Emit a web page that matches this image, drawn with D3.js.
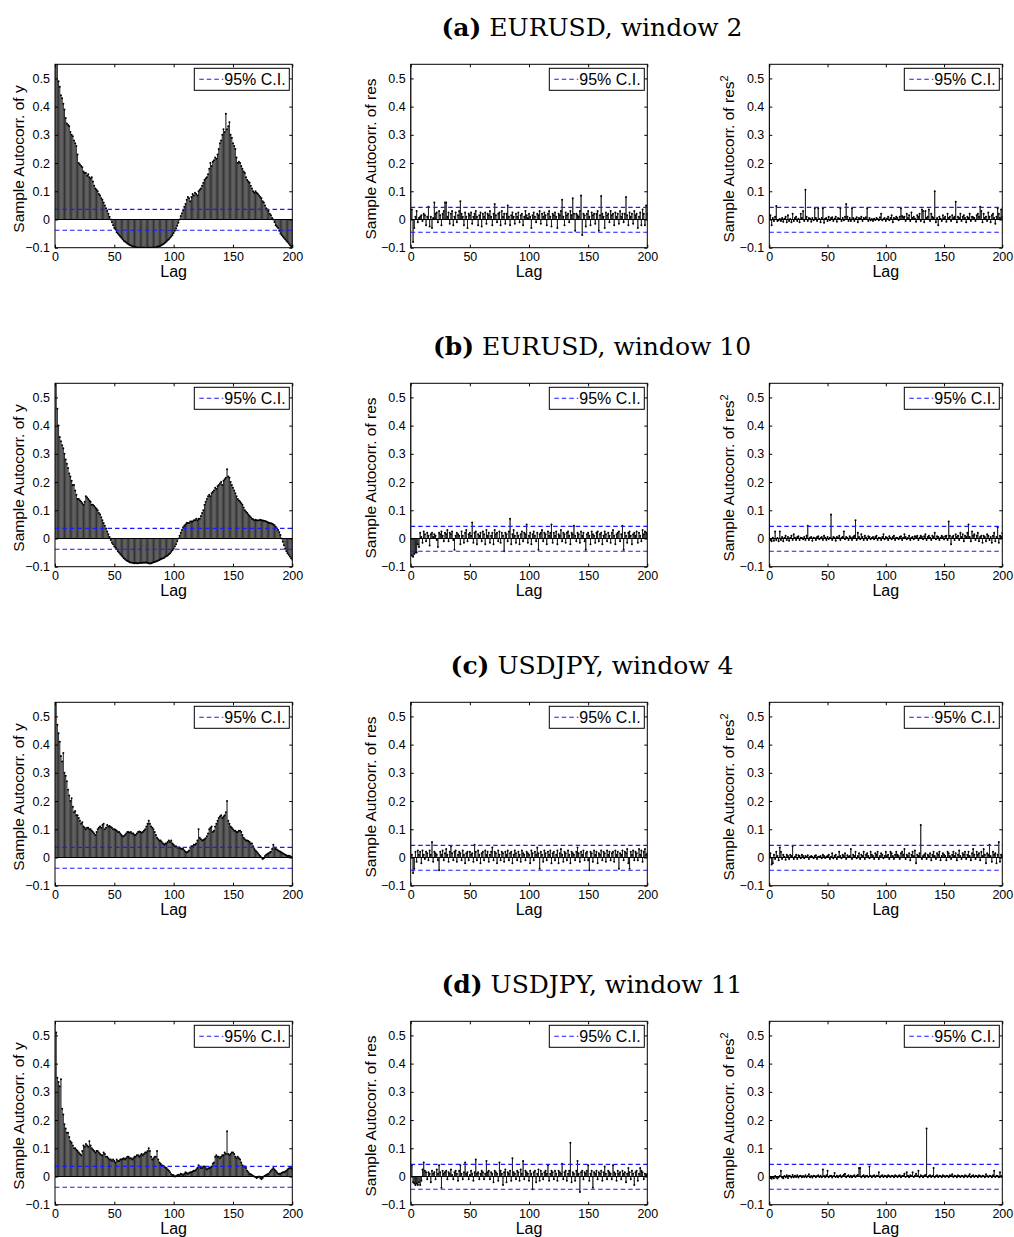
<!DOCTYPE html>
<html><head><meta charset="utf-8">
<script src="https://cdn.jsdelivr.net/npm/d3@7/dist/d3.min.js"></script>
<style>html,body{margin:0;padding:0;background:#fff}</style>
</head><body>
<script>
// ---------- DATA (lags 0..200) ----------
const xTicks = [0, 50, 100, 150, 200];
const yTicks = [-0.1, 0, 0.1, 0.2, 0.3, 0.4, 0.5];
const panelTitles = [["(a)", " EURUSD, window 2"], ["(b)", " EURUSD, window 10"], ["(c)", " USDJPY, window 4"], ["(d)", " USDJPY, window 11"]];
const yLabels = ["Sample Autocorr. of y", "Sample Autocorr. of res", "Sample Autocorr. of res"];
const yLabelSup = ["", "", "2"];
const legendLabel = "95% C.I.";
const ciY = [0.036, -0.038];
const ciRes = [0.043, -0.045];

const acfYa = [
1,0.62,0.55,0.49,0.47,0.44,0.43,0.41,0.39,0.36,
0.34,0.335,0.33,0.31,0.30,0.295,0.28,0.27,0.26,0.23,
0.20,0.195,0.19,0.185,0.17,0.165,0.165,0.155,0.16,0.15,
0.145,0.15,0.135,0.12,0.11,0.105,0.10,0.09,0.085,0.075,
0.07,0.06,0.05,0.04,0.03,0.02,0.01,0.0,-0.01,-0.02,
-0.03,-0.035,-0.045,-0.05,-0.055,-0.06,-0.065,-0.07,-0.075,-0.078,
-0.082,-0.085,-0.088,-0.09,-0.092,-0.094,-0.096,-0.097,-0.098,-0.099,
-0.1,-0.1,-0.099,-0.1,-0.1,-0.099,-0.1,-0.1,-0.1,-0.099,
-0.1,-0.1,-0.1,-0.098,-0.1,-0.099,-0.097,-0.096,-0.095,-0.093,
-0.09,-0.088,-0.085,-0.082,-0.078,-0.074,-0.07,-0.065,-0.06,-0.055,
-0.048,-0.04,-0.032,-0.022,-0.012,0.0,0.012,0.022,0.032,0.045,
0.055,0.07,0.08,0.075,0.065,0.08,0.09,0.085,0.095,0.09,
0.085,0.1,0.105,0.11,0.12,0.13,0.14,0.145,0.15,0.16,
0.18,0.2,0.19,0.205,0.21,0.22,0.215,0.23,0.25,0.27,
0.28,0.3,0.32,0.31,0.375,0.32,0.33,0.345,0.3,0.29,
0.27,0.26,0.25,0.22,0.2,0.205,0.2,0.19,0.18,0.17,
0.165,0.15,0.14,0.135,0.13,0.12,0.11,0.1,0.095,0.1,
0.095,0.09,0.085,0.08,0.075,0.065,0.06,0.05,0.04,0.035,
0.03,0.02,0.015,0.005,0.0,-0.01,-0.02,-0.025,-0.03,-0.04,
-0.05,-0.055,-0.06,-0.065,-0.07,-0.075,-0.08,-0.085,-0.09,-0.095,
-0.1];
const acfResA = [
1,0.035,-0.08,-0.03,0.01,0.03,-0.01,0.005,0.01,0.015,
-0.005,0.02,0.015,-0.02,0.01,0.045,-0.025,0.01,-0.03,0.005,
0.06,0.02,0.025,-0.01,0.03,0.015,-0.02,0.02,0.03,0.06,
0.06,0.01,0.025,-0.015,0.02,0.03,-0.02,0.01,0.025,-0.01,
0.015,0.03,0.065,0.02,0.01,-0.02,0.025,0.01,-0.03,0.02,
0.015,0.025,-0.015,0.01,0.02,0.03,0.01,-0.02,0.015,0.025,
-0.025,0.02,0.01,0.025,-0.015,0.02,0.015,0.03,0.01,-0.02,
0.02,0.055,0.015,-0.01,0.02,0.025,-0.02,0.03,0.01,0.02,
-0.015,0.02,0.05,0.01,-0.02,0.015,0.025,0.01,-0.015,0.02,
0.01,0.025,-0.01,0.015,0.02,-0.02,0.01,0.03,0.015,0.005,
0.02,0.01,-0.03,0.015,0.025,0.01,-0.01,0.02,0.015,0.03,
-0.015,0.02,0.01,0.025,0.015,-0.02,0.02,0.03,0.01,-0.025,
0.02,0.015,0.025,0.01,-0.03,0.02,0.015,0.03,0.07,0.01,
-0.02,0.025,0.015,0.02,-0.01,0.03,0.015,0.075,0.02,-0.04,
0.02,0.015,0.01,0.03,0.085,-0.055,0.02,0.015,-0.025,0.02,
0.03,0.01,-0.02,0.025,0.015,0.02,-0.015,0.02,0.03,-0.04,
0.015,0.083,0.02,0.01,-0.03,0.025,0.015,0.02,-0.01,0.03,
0.015,0.02,-0.02,0.025,0.01,0.02,-0.015,0.03,0.01,0.02,
-0.01,0.02,0.08,0.015,-0.02,0.025,0.01,0.02,-0.015,0.03,
0.015,0.02,-0.03,0.01,0.025,-0.02,0.035,0.02,-0.02,0.05,
0.02];
const acfRes2A = [
1,0.015,-0.02,0.005,-0.005,0.01,0.048,-0.005,-0.003,0.002,
-0.005,0.005,-0.008,0.003,0.01,-0.01,0.015,-0.005,0.002,-0.01,
0.02,-0.005,0.005,0.01,-0.005,0.003,-0.01,0.02,0.005,0.03,
-0.005,0.105,0.01,-0.005,0.005,0.003,-0.008,0.005,-0.003,0.04,
0.005,-0.005,0.04,0.002,-0.01,0.005,0.04,-0.012,0.003,0.005,
-0.005,0.01,-0.003,0.005,0.008,-0.005,0.003,0.01,-0.008,0.005,
0.003,0.04,-0.005,0.005,-0.003,0.01,0.055,0.01,-0.005,0.005,
-0.005,0.04,0.005,-0.005,0.003,0.008,-0.01,0.005,0.003,0.01,
-0.005,0.005,0.003,0.008,0.04,-0.005,0.005,-0.003,0.002,-0.005,
0.003,-0.002,0.005,0.002,-0.003,0.008,0.02,-0.003,0.002,0.005,
-0.005,0.003,0.01,-0.003,0.005,0.015,-0.01,0.005,0.003,0.01,
0.005,-0.003,0.01,0.04,0.012,0.008,0.01,-0.005,0.02,0.005,
0.015,-0.005,0.025,0.005,0.01,0.003,-0.008,0.015,0.01,0.02,
-0.005,0.035,0.03,-0.01,0.03,0.005,0.01,0.035,-0.005,0.02,
0.01,0.005,0.1,-0.01,0.005,-0.02,0.01,0.003,-0.005,0.015,
0.005,0.01,-0.008,0.02,0.005,0.01,-0.005,0.015,0.005,0.01,
0.063,-0.01,0.01,0.005,0.02,-0.005,0.01,0.015,0.005,-0.01,
0.01,0.005,0.02,-0.005,0.01,0.008,0.005,-0.005,0.015,0.02,
0.01,0.045,0.03,-0.01,0.02,0.005,0.01,-0.005,0.025,0.01,
-0.01,0.015,0.02,0.005,-0.015,0.01,0.04,0.02,0.005,0.035,
0.01];

const acfYb = [
1,0.6,0.46,0.40,0.36,0.345,0.33,0.32,0.30,0.28,
0.265,0.25,0.23,0.22,0.205,0.19,0.19,0.17,0.155,0.14,
0.14,0.135,0.13,0.125,0.12,0.13,0.15,0.145,0.14,0.135,
0.13,0.12,0.12,0.115,0.11,0.105,0.10,0.09,0.085,0.075,
0.065,0.055,0.045,0.035,0.025,0.015,0.005,-0.005,-0.015,-0.02,
-0.028,-0.033,-0.038,-0.045,-0.05,-0.055,-0.06,-0.065,-0.07,-0.073,
-0.077,-0.08,-0.082,-0.084,-0.085,-0.086,-0.087,-0.088,-0.087,-0.088,
-0.088,-0.087,-0.086,-0.087,-0.086,-0.085,-0.086,-0.085,-0.087,-0.088,
-0.089,-0.088,-0.086,-0.084,-0.083,-0.082,-0.08,-0.078,-0.076,-0.074,
-0.072,-0.07,-0.068,-0.065,-0.062,-0.06,-0.056,-0.052,-0.047,-0.042,
-0.036,-0.028,-0.02,-0.01,0.0,0.01,0.02,0.03,0.04,0.045,
0.05,0.055,0.055,0.055,0.06,0.06,0.06,0.065,0.065,0.07,
0.065,0.07,0.07,0.08,0.09,0.1,0.12,0.13,0.14,0.15,
0.155,0.15,0.16,0.165,0.17,0.18,0.175,0.185,0.19,0.195,
0.2,0.19,0.205,0.21,0.215,0.245,0.22,0.215,0.2,0.19,
0.18,0.17,0.16,0.15,0.14,0.135,0.13,0.125,0.12,0.11,
0.1,0.095,0.09,0.085,0.08,0.075,0.07,0.068,0.065,0.066,
0.065,0.064,0.065,0.066,0.065,0.064,0.063,0.062,0.06,0.058,
0.056,0.055,0.054,0.052,0.05,0.047,0.042,0.036,0.03,0.022,
0.012,0.0,-0.012,-0.024,-0.036,-0.045,-0.052,-0.058,-0.064,-0.07,
-0.075];
const acfResB = [
1,-0.06,-0.065,-0.055,-0.05,-0.05,-0.02,-0.03,0.02,0.005,
-0.015,0.025,0.015,-0.01,0.02,0.01,-0.025,0.015,0.02,0.005,
0.015,0.01,-0.005,-0.03,0.02,0.015,0.025,0.01,-0.01,0.02,
0.015,0.03,-0.01,0.02,0.015,0.025,-0.005,-0.04,0.01,0.02,
0.015,0.01,-0.02,0.025,0.01,-0.015,0.02,0.03,-0.01,0.015,
0.02,0.01,0.057,-0.015,0.02,0.025,-0.02,0.015,0.01,0.02,
-0.01,0.025,0.015,-0.02,0.03,0.01,0.02,-0.015,0.01,0.02,
-0.02,0.03,0.015,0.02,-0.01,0.025,-0.015,0.02,0.01,-0.045,
0.02,0.015,-0.01,0.025,0.07,-0.02,0.015,0.03,0.01,-0.015,
0.02,0.01,-0.02,0.015,0.025,-0.01,0.02,0.015,0.05,-0.015,
0.01,0.02,-0.02,0.015,0.025,0.01,-0.01,0.02,-0.04,0.015,
0.02,0.03,-0.01,0.02,0.015,-0.02,0.025,0.01,0.02,0.05,
-0.015,0.02,0.01,0.025,-0.02,0.015,0.01,0.03,-0.01,0.02,
0.015,-0.015,0.02,0.025,0.01,-0.02,0.02,0.015,0.045,0.01,
-0.01,0.02,0.015,-0.015,0.025,0.01,0.02,-0.01,-0.04,0.015,
0.02,0.01,-0.02,0.025,0.015,0.01,-0.015,0.02,0.025,-0.01,
0.015,0.02,-0.02,0.01,0.025,0.015,-0.01,0.02,0.01,-0.015,
0.02,0.03,0.01,-0.02,0.015,0.02,0.025,-0.01,0.015,0.045,
-0.04,0.02,0.01,-0.015,0.02,0.025,0.01,-0.02,0.015,0.02,
0.01,0.025,-0.015,0.02,0.01,-0.01,0.03,0.015,0.025,0.02,
0.015];
const acfRes2B = [
1,-0.005,-0.01,0.003,-0.008,0.025,-0.005,0.002,-0.01,0.025,
-0.005,0.005,-0.01,0.003,0.01,-0.005,0.005,-0.008,0.002,0.01,
-0.005,0.015,0.003,-0.005,0.005,0.008,-0.005,0.003,0.002,-0.003,
0.005,-0.005,0.01,0.045,-0.005,0.003,0.005,-0.008,0.003,0.002,
-0.005,0.005,0.008,-0.003,0.002,0.005,-0.005,0.01,0.003,-0.005,
0.005,-0.002,0.003,0.085,-0.005,0.005,0.003,-0.008,0.005,0.002,
0.01,-0.005,0.003,0.005,0.025,-0.003,0.005,0.002,-0.005,0.008,
0.003,-0.005,0.005,0.01,0.065,-0.005,0.02,0.005,-0.003,0.015,
0.005,-0.005,0.01,0.003,-0.005,0.008,0.005,-0.003,0.002,0.005,
-0.003,0.005,0.01,-0.005,0.003,0.002,-0.005,0.005,0.015,-0.003,
0.005,0.003,-0.005,0.008,0.002,-0.003,0.005,0.01,-0.005,0.003,
0.002,-0.003,0.005,0.008,-0.005,0.003,0.015,0.005,-0.003,0.002,
0.01,-0.005,0.003,0.005,-0.003,0.008,0.005,0.01,-0.005,0.003,
0.01,0.005,-0.003,0.008,0.015,-0.005,0.005,0.01,0.003,-0.005,
0.01,0.005,0.02,-0.003,0.008,0.005,-0.005,0.003,0.01,0.005,
-0.003,0.008,0.01,-0.005,0.06,0.01,-0.02,0.005,0.01,-0.005,
0.015,0.005,0.01,-0.005,0.02,0.005,0.015,-0.01,0.01,0.005,
0.02,0.05,0.005,-0.01,0.025,0.01,0.015,-0.005,0.01,0.02,
-0.01,0.005,0.01,-0.015,0.01,0.005,-0.01,0.015,0.01,-0.005,
0.005,-0.015,0.01,0.02,-0.01,0.005,0.04,-0.015,0.01,0.005,
0.02];

const acfYc = [
1,0.62,0.47,0.44,0.41,0.36,0.34,0.37,0.30,0.29,
0.27,0.24,0.22,0.20,0.21,0.18,0.16,0.165,0.15,0.15,
0.14,0.13,0.12,0.125,0.11,0.105,0.10,0.105,0.105,0.10,
0.10,0.095,0.09,0.085,0.08,0.09,0.10,0.105,0.11,0.105,
0.115,0.12,0.10,0.105,0.115,0.11,0.112,0.108,0.105,0.10,
0.10,0.098,0.095,0.09,0.09,0.085,0.08,0.075,0.075,0.08,
0.085,0.09,0.09,0.088,0.09,0.085,0.085,0.08,0.08,0.085,
0.09,0.092,0.09,0.088,0.09,0.095,0.1,0.11,0.12,0.13,
0.12,0.11,0.105,0.1,0.09,0.08,0.07,0.065,0.06,0.06,
0.055,0.05,0.045,0.05,0.05,0.055,0.06,0.055,0.06,0.05,
0.045,0.04,0.04,0.035,0.035,0.035,0.032,0.03,0.03,0.025,
0.02,0.018,0.02,0.025,0.035,0.04,0.04,0.045,0.045,0.05,
0.06,0.1,0.07,0.065,0.06,0.062,0.065,0.068,0.075,0.085,
0.1,0.105,0.11,0.09,0.095,0.11,0.12,0.13,0.14,0.145,
0.15,0.14,0.145,0.15,0.16,0.2,0.13,0.12,0.11,0.105,
0.1,0.095,0.095,0.09,0.09,0.095,0.095,0.09,0.08,0.07,
0.065,0.06,0.06,0.058,0.055,0.05,0.05,0.04,0.03,0.025,
0.02,0.015,0.01,0.005,0.0,-0.005,-0.003,0.005,0.01,0.012,
0.015,0.018,0.02,0.03,0.045,0.035,0.03,0.028,0.025,0.022,
0.02,0.018,0.015,0.012,0.01,0.008,0.005,0.006,0.005,0.002,
0.0];
const acfResC = [
1,0.01,-0.055,-0.04,0.02,-0.015,0.025,0.01,0.02,-0.02,
0.025,0.01,-0.005,0.02,0.015,-0.01,0.025,0.01,0.055,-0.015,
0.02,0.015,0.01,-0.01,-0.045,0.02,0.01,0.025,-0.01,0.015,
0.03,0.01,-0.015,0.02,0.04,0.015,-0.01,0.02,0.025,-0.015,
0.01,0.02,0.015,-0.01,0.025,0.01,-0.02,0.015,0.02,-0.01,
0.02,0.01,0.015,-0.015,0.045,0.02,-0.01,0.025,0.01,-0.02,
0.015,0.02,-0.01,0.025,0.01,0.02,-0.015,0.01,0.02,0.035,
-0.01,0.02,0.015,-0.02,0.025,0.01,-0.01,0.02,0.015,-0.015,
0.02,0.01,0.025,-0.01,0.015,0.02,-0.02,0.01,0.025,0.015,
-0.01,0.02,0.01,-0.015,0.025,0.015,0.01,-0.01,0.02,0.015,
0.01,-0.02,0.025,0.015,-0.01,0.02,0.01,0.035,0.015,-0.04,
0.02,0.01,-0.015,0.025,0.015,-0.01,0.02,0.01,0.025,-0.02,
0.015,0.02,-0.01,0.01,0.025,-0.02,0.015,0.03,0.01,-0.015,
0.02,0.015,-0.01,0.025,0.01,-0.02,0.02,0.015,0.01,-0.01,
0.02,0.035,0.015,-0.015,0.02,0.01,0.025,-0.01,0.015,0.02,
-0.01,-0.045,0.02,0.015,-0.015,0.025,0.01,0.02,-0.02,0.015,
0.01,0.025,-0.01,0.02,0.015,-0.015,0.025,0.01,0.02,-0.01,
0.015,0.02,-0.015,0.025,0.01,0.02,-0.04,0.015,0.01,0.025,
-0.01,0.02,0.015,0.03,-0.02,-0.04,0.02,0.01,0.025,-0.01,
0.02,0.015,-0.01,0.03,0.01,0.025,-0.015,0.02,0.03,0.01,
0.015];
const acfRes2C = [
1,0.015,-0.025,-0.02,0.01,-0.005,0.02,0.005,-0.01,0.035,
0.02,-0.005,0.01,0.003,-0.008,0.01,0.005,-0.005,0.01,0.005,
0.04,-0.005,0.003,0.01,-0.005,0.008,0.005,-0.003,0.01,0.005,
-0.003,0.005,0.002,0.008,-0.005,0.003,0.005,0.002,-0.003,0.005,
0.008,-0.005,0.003,0.002,0.005,-0.003,0.01,0.005,-0.002,0.003,
0.005,0.01,-0.005,0.003,0.015,-0.003,0.005,0.01,-0.005,0.003,
0.02,0.005,-0.003,0.01,0.005,0.015,-0.005,0.008,0.003,0.005,
0.03,-0.005,0.01,0.005,0.02,-0.003,0.005,0.015,-0.005,0.01,
0.005,0.02,-0.005,0.01,0.015,0.005,-0.003,0.02,0.01,0.005,
-0.005,0.015,0.01,0.02,-0.005,0.005,0.015,0.01,-0.003,0.005,
0.02,0.005,0.01,-0.005,0.02,0.015,0.005,-0.005,0.01,0.02,
0.01,0.005,-0.005,0.015,0.02,0.01,0.03,-0.005,0.01,0.005,
0.015,-0.01,0.01,0.02,0.005,0.025,-0.02,0.01,0.005,0.015,
0.115,-0.005,0.005,0.01,0.015,-0.005,0.01,0.005,0.015,-0.01,
0.01,0.02,0.005,-0.005,0.015,0.01,0.02,-0.01,0.005,0.015,
0.01,0.005,-0.01,0.02,0.015,0.005,-0.005,0.01,0.02,0.005,
0.015,-0.01,0.01,0.025,0.005,-0.005,0.015,0.01,0.02,-0.005,
0.01,0.02,0.005,-0.01,0.015,0.03,0.01,-0.005,0.02,0.01,
0.015,-0.01,0.02,0.005,0.03,0.01,-0.02,0.015,0.01,0.045,
0.005,-0.015,0.02,0.01,0.015,-0.02,0.01,0.055,-0.015,0.01,
0.005];

const acfYd = [
1,0.51,0.35,0.335,0.32,0.345,0.24,0.22,0.185,0.17,
0.155,0.155,0.14,0.125,0.12,0.11,0.1,0.1,0.095,0.09,
0.085,0.08,0.075,0.09,0.11,0.105,0.115,0.11,0.105,0.125,
0.11,0.1,0.095,0.09,0.085,0.09,0.09,0.085,0.08,0.075,
0.075,0.085,0.08,0.07,0.07,0.065,0.06,0.06,0.055,0.06,
0.055,0.05,0.06,0.055,0.055,0.06,0.06,0.062,0.065,0.06,
0.065,0.07,0.07,0.065,0.065,0.06,0.065,0.07,0.07,0.075,
0.075,0.07,0.075,0.08,0.075,0.08,0.085,0.085,0.09,0.1,
0.09,0.07,0.06,0.065,0.07,0.07,0.09,0.06,0.05,0.045,
0.04,0.038,0.035,0.032,0.03,0.025,0.02,0.015,0.008,0.005,
0.004,0.0,0.002,0.004,0.006,0.005,0.01,0.008,0.005,0.01,
0.015,0.012,0.01,0.012,0.015,0.015,0.018,0.02,0.02,0.025,
0.03,0.04,0.035,0.03,0.03,0.035,0.035,0.03,0.025,0.028,
0.03,0.032,0.035,0.045,0.05,0.07,0.075,0.07,0.07,0.065,
0.07,0.075,0.075,0.085,0.08,0.16,0.08,0.075,0.08,0.085,
0.085,0.08,0.07,0.065,0.07,0.065,0.06,0.05,0.04,0.035,
0.035,0.03,0.02,0.015,0.01,0.008,0.005,0.002,0.0,-0.002,
-0.005,-0.003,0.0,-0.005,-0.01,-0.005,0.0,0.003,0.005,0.008,
0.01,0.015,0.02,0.025,0.03,0.025,0.02,0.015,0.01,0.01,
0.01,0.012,0.015,0.015,0.018,0.02,0.025,0.028,0.03,0.03,
0.025];
const acfResD = [
1,0.04,-0.02,-0.025,-0.03,-0.025,-0.03,-0.02,-0.03,-0.015,
0.025,0.05,0.02,0.015,-0.01,0.015,0.01,-0.02,0.02,0.01,
0.015,-0.01,0.025,0.01,0.04,0.015,-0.04,0.02,0.01,0.015,
0.02,-0.01,0.015,0.01,0.025,0.005,-0.01,0.015,0.02,0.01,
-0.015,0.02,0.04,0.01,-0.01,0.015,0.05,0.01,0.015,-0.01,
0.005,0.02,0.01,-0.015,0.015,0.06,0.01,0.015,-0.01,0.01,
0.02,0.015,-0.01,0.01,0.055,0.015,0.02,-0.01,0.015,0.01,
-0.02,0.02,0.015,0.01,-0.015,0.05,0.02,0.01,-0.03,0.015,
0.025,-0.02,0.015,0.01,0.02,-0.015,0.065,0.015,0.01,-0.01,
0.02,0.015,-0.015,0.025,0.01,0.055,-0.01,0.02,0.015,0.01,
-0.015,0.02,0.01,-0.045,0.015,0.02,-0.02,0.01,0.025,-0.015,
0.02,0.01,-0.01,0.015,0.02,0.01,0.04,-0.015,0.01,0.02,
0.015,-0.01,0.02,0.01,-0.015,0.02,0.015,0.01,0.045,-0.01,
0.015,0.02,-0.015,0.01,0.02,0.12,-0.02,0.015,0.01,-0.015,
0.02,0.055,0.01,-0.055,0.015,0.02,-0.01,0.015,0.01,0.02,
0.04,-0.015,0.01,0.02,-0.04,0.015,0.01,0.02,-0.01,0.015,
0.01,0.02,-0.015,0.015,0.035,0.01,-0.01,0.02,0.015,0.01,
-0.01,0.04,0.015,0.01,-0.015,0.02,0.01,0.015,-0.01,0.02,
0.01,0.015,-0.02,0.01,0.03,0.015,-0.01,0.02,0.01,-0.03,
0.015,0.02,-0.015,0.01,0.03,0.02,0.015,-0.01,0.01,0.005,
0.01];
const acfRes2D = [
1,-0.005,-0.008,-0.003,-0.006,0.002,-0.004,-0.007,-0.003,0.002,
0.02,-0.004,-0.006,0.002,-0.003,0.004,-0.005,0.003,0.001,-0.004,
0.005,-0.003,0.003,-0.002,0.004,-0.004,0.002,0.003,-0.003,0.002,
-0.002,0.004,-0.003,0.002,0.008,-0.003,0.002,-0.004,0.003,0.002,
-0.003,0.002,0.004,-0.002,0.003,-0.003,0.025,0.002,-0.003,0.004,
0.02,-0.003,0.002,0.003,-0.004,0.002,0.012,-0.002,0.003,-0.003,
0.002,0.004,-0.003,0.002,0.006,0.01,-0.003,0.002,0.004,-0.002,
0.003,-0.003,0.002,0.004,-0.002,0.003,0.005,0.03,0.03,-0.003,
0.002,0.004,-0.003,0.002,0.003,-0.002,0.035,0.003,-0.003,0.002,
0.004,-0.002,0.003,0.002,0.015,-0.003,0.002,0.004,-0.002,0.003,
0.002,-0.003,0.004,0.002,-0.002,0.003,0.002,-0.003,0.004,0.002,
-0.002,0.003,0.004,-0.003,0.002,0.003,0.01,-0.002,0.015,0.003,
-0.003,0.004,0.002,0.015,-0.002,0.003,0.01,0.002,0.02,-0.003,
0.004,0.002,-0.003,0.003,0.005,0.17,-0.003,0.002,0.004,-0.002,
0.003,0.03,-0.003,0.002,0.004,-0.002,0.003,0.002,-0.003,0.004,
0.002,-0.002,0.003,0.002,-0.003,0.004,0.002,0.008,-0.002,0.003,
0.002,-0.003,0.004,0.002,-0.002,0.003,0.002,-0.003,0.004,0.002,
-0.002,0.003,0.008,-0.003,0.002,0.004,-0.002,0.003,0.002,-0.003,
0.004,0.002,-0.002,0.003,0.002,-0.003,0.008,0.002,-0.002,0.003,
0.002,-0.003,0.004,0.02,-0.002,0.003,0.002,-0.003,0.015,0.002,
-0.002];

const seriesGrid = [
  [acfYa, acfResA, acfRes2A],
  [acfYb, acfResB, acfRes2B],
  [acfYc, acfResC, acfRes2C],
  [acfYd, acfResD, acfRes2D]
];

// ---------- LAYOUT ----------
const W = 1014, H = 1237;
const cols = [{x0: 55, x1: 292.3}, {x0: 410.7, x1: 647.3}, {x0: 769.3, x1: 1002.3}];
const rowStep = 319, top0 = 64.3, bot0 = 247.7;
const sans = "'Liberation Sans', Arial, Helvetica, sans-serif";

const svg = d3.select("body").append("svg").attr("width", W).attr("height", H)
  .style("display", "block");

seriesGrid.forEach((row, r) => {
  const top = top0 + rowStep * r, bot = bot0 + rowStep * r;
  // title
  const t = svg.append("text").attr("x", 592).attr("y", 36 + rowStep * r)
    .attr("text-anchor", "middle").attr("font-family", "'DejaVu Serif', serif")
    .attr("font-size", 25).attr("fill", "#000");
  t.append("tspan").attr("font-weight", "bold").text(panelTitles[r][0]);
  t.append("tspan").text(panelTitles[r][1]);

  row.forEach((vals, c) => {
    const {x0, x1} = cols[c];
    const x = d3.scaleLinear().domain([0, 200]).range([x0, x1]);
    const y = d3.scaleLinear().domain([-0.1, 0.55]).range([bot, top]);
    const g = svg.append("g");
    const cid = `clip${r}_${c}`;
    g.append("clipPath").attr("id", cid).append("rect")
      .attr("x", x0).attr("y", top).attr("width", x1 - x0).attr("height", bot - top);
    const plot = g.append("g").attr("clip-path", `url(#${cid})`);
    const step = x(1) - x(0);
    const data = vals.map((v, i) => ({lag: i, v}));
    // bars
    plot.selectAll("rect.bar").data(data).join("rect").attr("class", "bar")
      .attr("x", d => x(d.lag) - step * 0.42)
      .attr("width", step * 0.84)
      .attr("y", d => y(Math.max(0, d.v)))
      .attr("height", d => Math.abs(y(d.v) - y(0)))
      .attr("fill", c === 0 ? "#4e4e4e" : "#555");
    // stems
    plot.selectAll("line.stem").data(data).join("line").attr("class", "stem")
      .attr("x1", d => x(d.lag)).attr("x2", d => x(d.lag))
      .attr("y1", y(0)).attr("y2", d => y(d.v))
      .attr("stroke", "#111").attr("stroke-width", c === 0 ? 0.45 : 0.8);
    // markers
    plot.selectAll("circle.mk").data(data).join("circle").attr("class", "mk")
      .attr("cx", d => x(d.lag)).attr("cy", d => y(d.v)).attr("r", 1.0)
      .attr("fill", "#000");
    // zero line
    plot.append("line").attr("x1", x0).attr("x2", x1).attr("y1", y(0)).attr("y2", y(0))
      .attr("stroke", "#000").attr("stroke-width", 1.2);
    // CI lines
    const ci = c === 0 ? ciY : ciRes;
    ci.forEach(cv => {
      plot.append("line").attr("x1", x0).attr("x2", x1).attr("y1", y(cv)).attr("y2", y(cv))
        .attr("stroke", "#1a1aff").attr("stroke-width", 1.1).attr("stroke-dasharray", "4.5,3");
    });

    // axes
    const styleAxis = sel => {
      sel.attr("font-family", sans).attr("font-size", 12.5);
      sel.select(".domain").remove();
      sel.selectAll(".tick line").attr("stroke", "#000");
      sel.selectAll(".tick text").attr("fill", "#000");
    };
    g.append("g").attr("transform", `translate(${x0},0)`)
      .call(d3.axisLeft(y).tickValues(yTicks).tickSize(-3).tickPadding(5)
        .tickFormat(v => Math.abs(v) < 1e-9 ? "0" : (v < 0 ? "\u2212" : "") + Math.abs(v).toFixed(1)))
      .call(styleAxis);
    g.append("g").attr("transform", `translate(${x1},0)`)
      .call(d3.axisRight(y).tickValues(yTicks).tickSize(-3).tickFormat(""))
      .call(styleAxis);
    g.append("g").attr("transform", `translate(0,${bot})`)
      .call(d3.axisBottom(x).tickValues(xTicks).tickSize(-3).tickPadding(4).tickFormat(d3.format("d")))
      .call(styleAxis);
    g.append("g").attr("transform", `translate(0,${top})`)
      .call(d3.axisTop(x).tickValues(xTicks).tickSize(-3).tickFormat(""))
      .call(styleAxis);
    // box
    g.append("rect").attr("x", x0).attr("y", top).attr("width", x1 - x0).attr("height", bot - top)
      .attr("fill", "none").attr("stroke", "#000").attr("stroke-width", 1);

    // x label
    g.append("text").attr("x", (x0 + x1) / 2).attr("y", bot + 29).attr("text-anchor", "middle")
      .attr("font-family", sans).attr("font-size", 16).text("Lag");
    // y label
    const yl = g.append("text")
      .attr("transform", `translate(${x0 - (c === 0 ? 31 : 35)},${(top + bot) / 2 + 3}) rotate(-90)`)
      .attr("text-anchor", "middle").attr("font-family", sans).attr("font-size", 15.5)
      .text(yLabels[c]);
    if (yLabelSup[c]) {
      yl.append("tspan").attr("baseline-shift", "super").attr("font-size", 11).text(yLabelSup[c]);
    }

    // legend
    const lx = x1 - 98, ly = top + 4, lw = 95, lh = 22;
    g.append("rect").attr("x", lx).attr("y", ly).attr("width", lw).attr("height", lh)
      .attr("fill", "#fff").attr("stroke", "#000").attr("stroke-width", 1);
    g.append("line").attr("x1", lx + 5).attr("x2", lx + 29).attr("y1", ly + lh / 2).attr("y2", ly + lh / 2)
      .attr("stroke", "#1a1aff").attr("stroke-width", 1.1).attr("stroke-dasharray", "4.5,3");
    g.append("text").attr("x", lx + 30).attr("y", ly + lh / 2 + 6)
      .attr("font-family", sans).attr("font-size", 16).text(legendLabel);
  });
});
</script>
</body></html>
